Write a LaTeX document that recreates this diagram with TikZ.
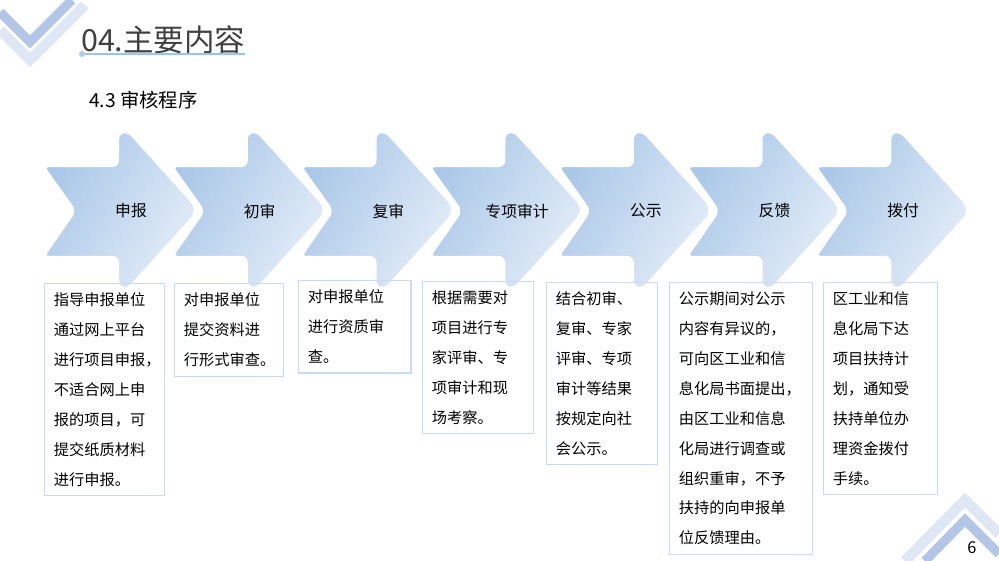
\documentclass[tikz,border=0pt]{standalone}
\usepackage{fontspec}
\setmainfont{Noto Sans CJK SC}
\definecolor{arrowdark}{HTML}{A9C7E8}
\definecolor{arrowlight}{HTML}{E2ECF7}
\definecolor{boxline}{HTML}{C9DBF0}
\definecolor{decodark}{HTML}{B4C6E7}
\definecolor{decolight}{HTML}{DFE6F4}
\definecolor{titleline}{HTML}{5B9BD5}
\tikzset{
  steparrow/.style={left color=arrowdark,right color=arrowlight,shading angle=60,draw=white,line width=2pt,rounded corners=5},
  steplabel/.style={font=\fontsize{13.5}{16}\selectfont},
  infobox/.style={draw=boxline,line width=1pt,anchor=north west,align=left,inner xsep=8pt,inner ysep=8pt,font=\fontsize{13}{25.5}\selectfont}
}
\begin{document}
\begin{tikzpicture}[x=0.03cm,y=-0.03cm]
  \useasboundingbox (0,0) rectangle (999,561);
  % corners
  \draw[decolight,line width=9pt] (0,30) -- (30,60) -- (85,5);
  \draw[decodark,line width=8pt] (0,12) -- (30,42) -- (72,0);
  \draw[decolight,line width=9pt] (905,561) -- (965,500) -- (999,534);
  \draw[decodark,line width=8pt] (925,561) -- (965,520) -- (999,554);
  % title
  \node[anchor=west,font=\fontsize{26}{30}\selectfont,text=black!75] (title) at (77,40) {04.主要内容};
  \draw[titleline!60,line width=1.2pt] (82,54) -- (245,54);
  \fill[titleline!50] (82,54) circle (3);
  \node[anchor=west,font=\fontsize{16.5}{20}\selectfont] (sub) at (85,100) {4.3 审核程序};
  % arrows
  \foreach \i/\lab in {0/申报,1/初审,2/复审,3/专项审计,4/公示,5/反馈,6/拨付}{
    \begin{scope}[shift={(43+128.7*\i,0)}]
      \draw[steparrow] (0,166) -- (75,166) -- (75,133) -- (85,131) -- (152,205) -- (152,215) -- (85,289) -- (75,287) -- (75,257) -- (0,257) -- (32,211) -- cycle;
      \node[steplabel] (a\i) at (88,211) {\lab};
    \end{scope}
  }
  % boxes
  \node[infobox,text width=86pt] (b0) at (44,283) {指导申报单位\\通过网上平台\\进行项目申报，\\不适合网上申\\报的项目，可\\提交纸质材料\\进行申报。};
  \node[infobox,text width=77pt] (b1) at (174,283) {对申报单位\\提交资料进\\行形式审查。};
  \node[infobox,text width=80pt] (b2) at (298,280) {对申报单位\\进行资质审\\查。};
  \node[infobox,text width=79pt] (b3) at (422,281) {根据需要对\\项目进行专\\家评审、专\\项审计和现\\场考察。};
  \node[infobox,text width=79pt] (b4) at (546,282) {结合初审、\\复审、专家\\评审、专项\\审计等结果\\按规定向社\\会公示。};
  \node[infobox,text width=106pt] (b5) at (669,282) {公示期间对公示\\内容有异议的，\\可向区工业和信\\息化局书面提出，\\由区工业和信息\\化局进行调查或\\组织重审，不予\\扶持的向申报单\\位反馈理由。};
  \node[infobox,text width=81pt] (b6) at (823,282) {区工业和信\\息化局下达\\项目扶持计\\划，通知受\\扶持单位办\\理资金拨付\\手续。};
  \node[font=\fontsize{14}{16}\selectfont] (page) at (972,548) {6};
\end{tikzpicture}
\end{document}
